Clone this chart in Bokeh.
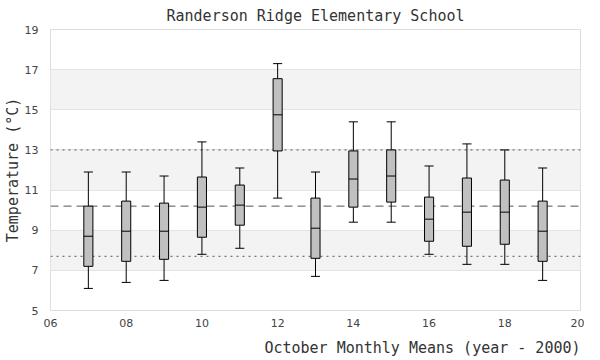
from bokeh.plotting import figure
from bokeh.models import FixedTicker, Title
from bokeh.embed import file_html
from bokeh.resources import INLINE

years = [7, 8, 9, 10, 11, 12, 13, 14, 15, 16, 17, 18, 19]
whisker_low = [6.1, 6.4, 6.5, 7.8, 8.1, 10.6, 6.7, 9.4, 9.4, 7.8, 7.3, 7.3, 6.5]
q1 = [7.2, 7.45, 7.55, 8.65, 9.25, 12.95, 7.6, 10.15, 10.4, 8.45, 8.2, 8.3, 7.45]
median = [8.7, 8.95, 8.95, 10.15, 10.25, 14.75, 9.1, 11.55, 11.7, 9.55, 9.9, 9.9, 8.95]
q3 = [10.2, 10.45, 10.35, 11.65, 11.25, 16.55, 10.6, 12.95, 13.0, 10.65, 11.6, 11.5, 10.45]
whisker_high = [11.9, 11.9, 11.7, 13.4, 12.1, 17.3, 11.9, 14.4, 14.4, 12.2, 13.3, 13.0, 12.1]

overall_mean = 10.2
upper_ref = 13.0
lower_ref = 7.7

x_ticks = [6, 8, 10, 12, 14, 16, 18, 20]
x_tick_labels = ["06", "08", "10", "12", "14", "16", "18", "20"]
y_ticks = [5, 7, 9, 11, 13, 15, 17, 19]

title_text = "Randerson Ridge Elementary School"
x_label = "October Monthly Means (year - 2000)"
y_label = "Temperature (°C)"

MONO = "DejaVu Sans Mono"

p = figure(width=584, height=364, output_backend="svg", toolbar_location=None,
           x_range=(6, 20), y_range=(5, 19),
           min_border_left=42, min_border_right=4, min_border_top=22, min_border_bottom=0)

p.title.text = title_text
p.title.align = "center"
p.title.text_font = MONO
p.title.text_font_size = "15px"
p.title.text_font_style = "normal"
p.title.text_color = "#333333"
p.title.offset = 0
p.title.standoff = 9

p.outline_line_color = "#dddddd"
p.outline_line_width = 1

for ax in (p.xaxis, p.yaxis):
    ax.axis_line_color = None
    ax.major_tick_line_color = None
    ax.minor_tick_line_color = None
    ax.major_tick_out = 0
    ax.major_tick_in = 0
    ax.minor_tick_out = 0
    ax.minor_tick_in = 0
    ax.major_label_text_font = "DejaVu Sans"
    ax.major_label_text_font_size = "11px"
    ax.major_label_text_color = "#444444"

p.xaxis.ticker = FixedTicker(ticks=x_ticks)
p.xaxis.major_label_overrides = {t: l for t, l in zip(x_ticks, x_tick_labels)}
p.xaxis.major_label_standoff = 8
p.xaxis.axis_label_standoff = 0
p.yaxis.ticker = FixedTicker(ticks=y_ticks)
p.yaxis.major_label_standoff = 12

p.yaxis.axis_label = y_label
p.yaxis.axis_label_text_font = MONO
p.yaxis.axis_label_text_font_size = "15px"
p.yaxis.axis_label_text_font_style = "normal"
p.yaxis.axis_label_text_color = "#333333"
p.yaxis.axis_label_standoff = 0

xt = Title(text=x_label, align="right", text_font=MONO, text_font_size="15px",
           text_font_style="normal", text_color="#333333", offset=0, standoff=15)
p.add_layout(xt, "below")

p.xgrid.grid_line_color = None
p.ygrid.grid_line_color = "#e3e3e3"
p.ygrid.band_fill_color = "#f3f3f3"
p.ygrid.band_fill_alpha = 1.0

# reference lines
p.segment(x0=[6, 6], x1=[20, 20], y0=[upper_ref, lower_ref], y1=[upper_ref, lower_ref],
          line_color="#555555", line_width=1, line_dash="2 4")
p.segment(x0=[6], x1=[20], y0=[overall_mean], y1=[overall_mean],
          line_color="#555555", line_width=1, line_dash="8 5")

w = 0.24
# whiskers
p.segment(x0=years, x1=years, y0=whisker_low, y1=q1, line_color="black", line_width=1)
p.segment(x0=years, x1=years, y0=q3, y1=whisker_high, line_color="black", line_width=1)
xl = [y - w / 2 for y in years]
xr = [y + w / 2 for y in years]
p.segment(x0=xl, x1=xr, y0=whisker_low, y1=whisker_low, line_color="black", line_width=1)
p.segment(x0=xl, x1=xr, y0=whisker_high, y1=whisker_high, line_color="black", line_width=1)
# boxes
p.vbar(x=years, width=w, bottom=q1, top=q3, fill_color="#c0c0c0", line_color="black", line_width=1)
p.segment(x0=xl, x1=xr, y0=median, y1=median, line_color="black", line_width=1)

open("out.html", "w").write(file_html(p, INLINE))
